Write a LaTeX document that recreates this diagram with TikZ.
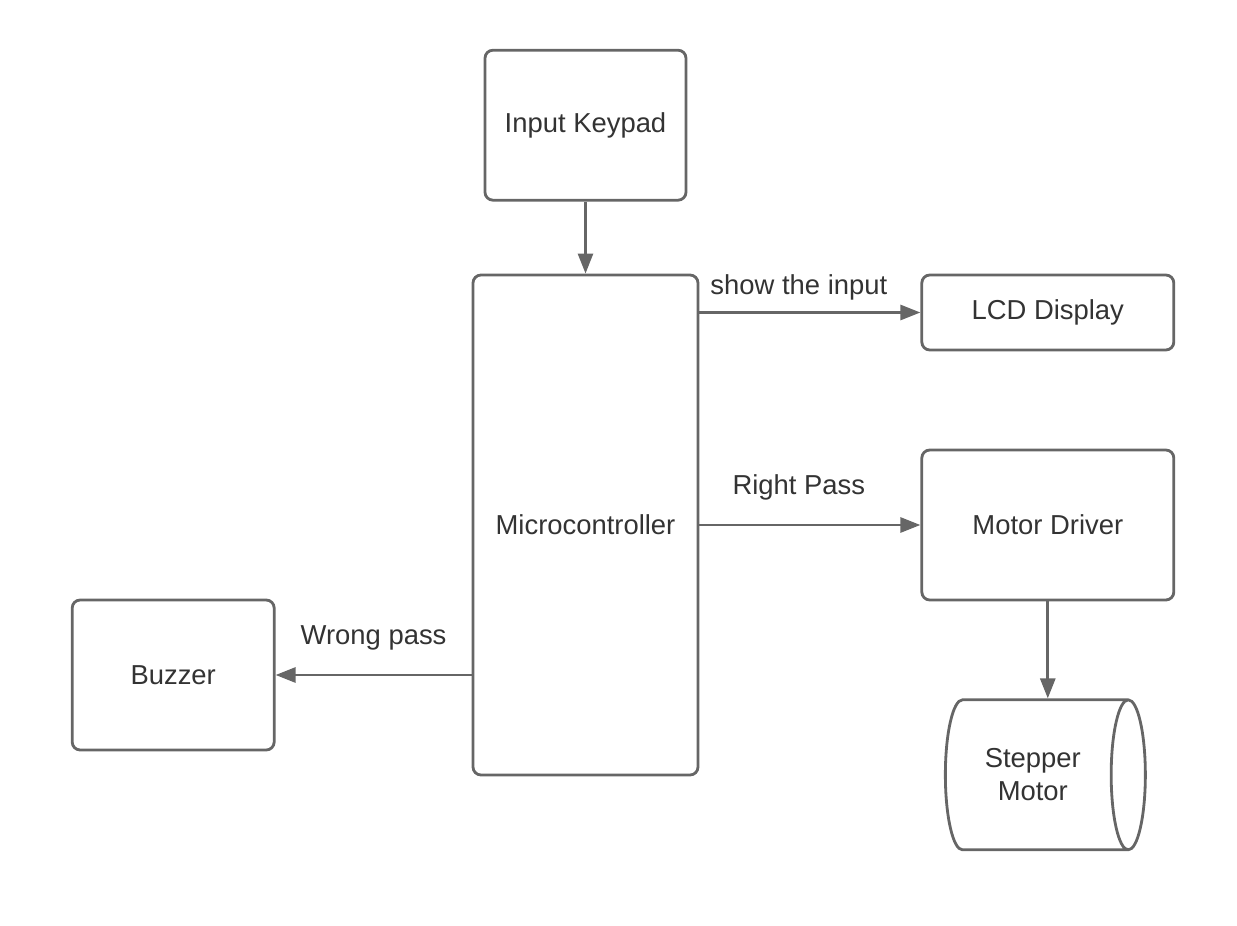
\documentclass[tikz,border=0pt]{standalone}
\usepackage{fontspec}
\setmainfont{Liberation Sans}
\usepackage{tikz}
\usetikzlibrary{positioning,arrows.meta,shapes.geometric}
\definecolor{linegray}{HTML}{666666}
\definecolor{textgray}{HTML}{333333}

\begin{document}
\begin{tikzpicture}[node distance = 2cm, auto,
  font=\fontsize{15.6}{19}\selectfont, text=textgray,
  block/.style={rectangle, draw=linegray, line width=1.6pt, rounded corners=0.16cm, align=center},
  link/.style={draw=linegray, line width=1.6pt, -{Triangle[length=0.4cm, width=0.3cm]}},
  label/.style={text=textgray}]
\useasboundingbox (-11.71,10.5) rectangle (13.03,-8.0);
\node [block, minimum width=4.5cm, minimum height=10cm] (micro) {Microcontroller};
\node [block, above=1.44cm of micro, minimum width=4.02cm, minimum height=3cm] (keypad) {Input Keypad};
\node [block, right=4.42cm of micro.north east, anchor=north west, minimum width=5.04cm, minimum height=1.5cm] (lcd) {LCD Display};
\node [block, right=4.42cm of micro, minimum width=5.04cm, minimum height=3cm] (driver) {Motor Driver};
\node [block, left=3.92cm of micro.west, yshift=-3cm, minimum width=4.04cm, minimum height=3cm] (buzzer) {Buzzer};
\node [cylinder, draw=linegray, line width=1.6pt, aspect=0.53, below=1.94cm of driver, xshift=-0.3cm, minimum width=3cm, minimum height=4cm, align=center] (stepper) {Stepper\\Motor};

\draw [link] (keypad) -- (micro);
\draw [link] (micro.east |- lcd) -- (lcd) node [label, pos=.45, above=0.1cm] (showlbl) {show the input};
\draw [link] (micro) -- (driver) node [label, pos=.45, above=0.36cm] (rightlbl) {Right Pass};
\draw [link] (micro.west |- buzzer) -- (buzzer) node [label, pos=.5, above=0.35cm] (wronglbl) {Wrong pass};
\draw [link] (driver) -- (driver |- stepper.north);
\end{tikzpicture}
\end{document}
